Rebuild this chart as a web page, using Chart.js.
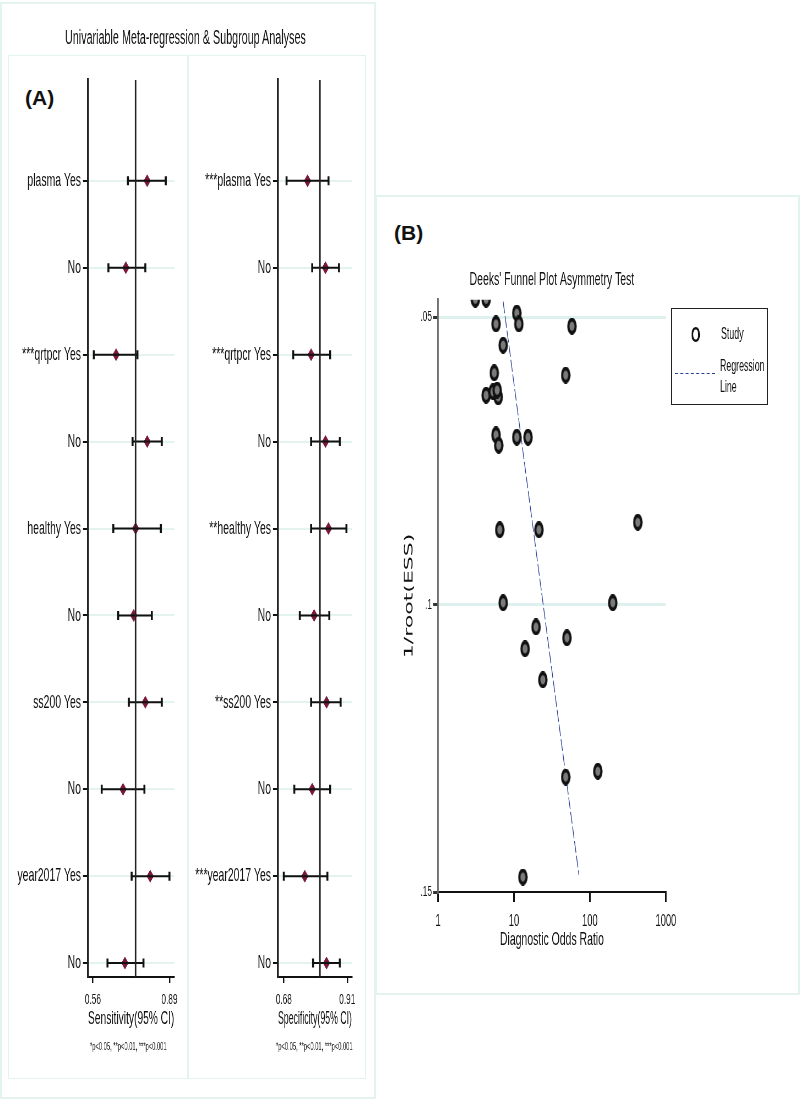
<!DOCTYPE html>
<html lang="en">
<head>
    <meta charset="UTF-8">
    <title>Meta-regression and Deeks' funnel plot</title>
    <script src="https://cdn.jsdelivr.net/npm/chart.js"></script>
    <style>
        body {
            margin: 0;
            width: 800px;
            height: 1100px;
            background: #ffffff;
            font-family: 'Liberation Sans', Arial, sans-serif;
            color: #111;
            position: relative;
            overflow: hidden;
        }
        .frame { position: absolute; border: 2px solid #e2f3f0; box-sizing: border-box; }
        .abs { position: absolute; }
        /* the original figure is a horizontally squeezed Stata graph */
        .sq { position: absolute; white-space: nowrap; transform: scaleX(0.55); transform-origin: 0 0; will-change: transform; }
        canvas { position: absolute; transform: scaleX(0.55); transform-origin: 0 0; }
        .panel-tag { font-weight: bold; font-size: 21px; }
        .foot { font-size: 10.5px; color: #222; }
        #legendBox {
            position: absolute; left: 671px; top: 308px; width: 97px; height: 97px;
            border: 1.5px solid #222; box-sizing: border-box;
        }
    </style>
</head>
<body>
    <!-- panel frames -->
    <div class="frame" style="left:0; top:2px; width:376px; height:1097px;"></div>
    <div class="frame" style="left:8px; top:55px; width:358px; height:1024px; border-width:1.5px;"></div>
    <div class="abs" style="left:187px; top:55px; width:1.5px; height:1024px; background:#e2f3f0;"></div>
    <div class="frame" style="left:375px; top:195px; width:425px; height:800px;"></div>

    <div class="sq" style="left:65px; top:26px; font-size:19.6px;">Univariable Meta-regression &amp; Subgroup Analyses</div>
    <div class="abs panel-tag" style="left:25px; top:86px;">(A)</div>
    <div class="abs panel-tag" style="left:394px; top:221px;">(B)</div>

    <!-- canvas widths are pre-squeeze; shown widths are 172, 170 and 334 px -->
    <canvas id="sensChart" width="313" height="970" style="left:10px; top:60px;"></canvas>
    <canvas id="specChart" width="309" height="970" style="left:190px; top:60px;"></canvas>
    <canvas id="funnelChart" width="607" height="697" style="left:385px; top:255px;"></canvas>

    <div class="sq foot" style="left:90px; top:1040px;">*p&lt;0.05, **p&lt;0.01, ***p&lt;0.001</div>
    <div class="sq foot" style="left:276px; top:1040px;">*p&lt;0.05, **p&lt;0.01, ***p&lt;0.001</div>

    <div id="legendBox">
        <div class="sq" style="left:19px; top:13px; font-size:22px; font-weight:bold;">O</div>
        <div class="sq" style="left:49px; top:16px; font-size:16px;">Study</div>
        <div class="abs" style="left:3px; top:64px; width:40px; border-top:1.5px dashed #2a3f9a;"></div>
        <div class="sq" style="left:48px; top:46px; font-size:16px; line-height:21px;">Regression<br>Line</div>
    </div>

    <script>
        // ---- (A) forest plots ----
        const sensLabels = ['plasma Yes', 'No', '***qrtpcr Yes', 'No', 'healthy Yes', 'No', 'ss200 Yes', 'No', 'year2017 Yes', 'No'];
        const sensEst  = [0.794, 0.702, 0.660, 0.794, 0.744, 0.736, 0.786, 0.690, 0.807, 0.698];
        const sensLow  = [0.711, 0.627, 0.564, 0.731, 0.648, 0.669, 0.715, 0.598, 0.727, 0.623];
        const sensHigh = [0.874, 0.786, 0.752, 0.857, 0.853, 0.814, 0.857, 0.782, 0.890, 0.778];
        const sensPooled = 0.744;
        const sensTicks = [0.56, 0.89];

        const specLabels = ['***plasma Yes', 'No', '***qrtpcr Yes', 'No', '**healthy Yes', 'No', '**ss200 Yes', 'No', '***year2017 Yes', 'No'];
        const specEst  = [0.766, 0.831, 0.779, 0.831, 0.842, 0.790, 0.835, 0.783, 0.756, 0.835];
        const specLow  = [0.690, 0.783, 0.714, 0.779, 0.779, 0.738, 0.779, 0.718, 0.680, 0.786];
        const specHigh = [0.842, 0.880, 0.848, 0.883, 0.907, 0.845, 0.886, 0.848, 0.838, 0.883];
        const specPooled = 0.811;
        const specTicks = [0.68, 0.91];

        // ---- (B) Deeks' funnel plot ----
        const studyDOR = [3.1, 4.3, 10.9, 11.6, 5.8, 58, 7.2, 48, 5.5, 4.3, 5.3, 6.2, 6.0, 5.8, 10.9, 15.3, 6.3,
                          6.5, 21.3, 427, 7.2, 200, 19.5, 49.8, 14, 24, 48, 127, 13.1];
        const studyInvRootESS = [0.0469, 0.0469, 0.0493, 0.0512, 0.0512, 0.0516, 0.0549, 0.0601, 0.0597, 0.0636, 0.0630, 0.0639, 0.0627, 0.0705, 0.0709, 0.0709, 0.0723,
                                 0.0870, 0.0870, 0.0857, 0.0997, 0.0997, 0.1039, 0.1058, 0.1077, 0.1131, 0.1300, 0.1290, 0.1474];
        const regLineDOR = [7.2, 71.6];
        const regLineY = [0.0473, 0.1470];
        const funnelXTicks = [1, 10, 100, 1000];
        const funnelYTicks = [0.05, 0.1, 0.15];

        const squeeze = 0.55;   // must match the CSS scaleX
        const px = v => v / squeeze;

        Chart.defaults.font.family = "'Liberation Sans', Arial, sans-serif";
        Chart.defaults.color = '#111';

        const rowMin = -1.16, rowMax = 9.16;

        function forestChart(id, labels, est, low, high, pooled, ticks, xMin, xMax, axisTitle, yWidth, padRight) {
            const ciData = [];
            const capData = [];
            labels.forEach((_, i) => {
                ciData.push({ x: low[i], y: i }, { x: high[i], y: i }, { x: high[i], y: null });
                capData.push({ x: low[i], y: i }, { x: high[i], y: i });
            });

            return new Chart(document.getElementById(id), {
                type: 'scatter',
                data: {
                    datasets: [
                        {
                            data: [{ x: pooled, y: rowMin }, { x: pooled, y: rowMax }],
                            showLine: true, borderColor: '#222', borderWidth: 2.8, pointRadius: 0
                        },
                        {
                            data: ciData, showLine: true, spanGaps: false,
                            borderColor: '#111', borderWidth: 2, pointRadius: 0
                        },
                        {
                            data: capData, pointStyle: 'line', rotation: 90, pointRadius: 4.5,
                            borderColor: '#111', borderWidth: 3.6
                        },
                        {
                            data: est.map((v, i) => ({ x: v, y: i })),
                            pointStyle: 'rectRot', pointRadius: 6,
                            backgroundColor: '#7a1838', borderColor: '#7a1838'
                        }
                    ]
                },
                options: {
                    responsive: false,
                    animation: false,
                    layout: { padding: { top: 20, right: px(padRight), bottom: 0, left: 0 } },
                    plugins: { legend: { display: false }, tooltip: { enabled: false } },
                    scales: {
                        x: {
                            type: 'linear', min: xMin, max: xMax,
                            afterBuildTicks: s => { s.ticks = ticks.map(v => ({ value: v })); },
                            afterFit: s => { s.height = 53; },
                            ticks: { callback: v => v.toFixed(2), font: { size: 15 }, maxRotation: 0, autoSkip: false, padding: 8 },
                            grid: { drawOnChartArea: false, tickLength: 6, tickColor: '#111', lineWidth: 2.5 },
                            border: { color: '#111', width: 2 },
                            title: { display: true, text: axisTitle, font: { size: 19 }, padding: { top: 0, bottom: 0 } }
                        },
                        y: {
                            type: 'linear', reverse: true, min: rowMin, max: rowMax,
                            afterBuildTicks: s => { s.ticks = labels.map((_, i) => ({ value: i })); },
                            afterFit: s => { s.width = px(yWidth); },
                            ticks: { callback: v => labels[v], font: { size: 19 }, padding: px(2), autoSkip: false },
                            grid: { color: '#e2f3f0', lineWidth: 2, tickLength: px(5), tickColor: '#111' },
                            border: { color: '#222', width: 3.5 }
                        }
                    }
                }
            });
        }

        forestChart('sensChart', sensLabels, sensEst, sensLow, sensHigh, sensPooled, sensTicks, 0.539, 0.911, 'Sensitivity(95% CI)', 78, 5);
        forestChart('specChart', specLabels, specEst, specLow, specHigh, specPooled, specTicks, 0.659, 0.927, 'Specificity(95% CI)', 88, 4);

        // study marker: dark outlined oval (gets squeezed with the canvas)
        const marker = document.createElement('canvas');
        marker.width = 18; marker.height = 17;
        const mctx = marker.getContext('2d');
        mctx.beginPath();
        mctx.ellipse(9, 8.5, 6.6, 6.6, 0, 0, Math.PI * 2);
        mctx.fillStyle = '#7a7a7a';
        mctx.fill();
        mctx.lineWidth = 4;
        mctx.strokeStyle = '#111';
        mctx.stroke();

        new Chart(document.getElementById('funnelChart'), {
            type: 'scatter',
            data: {
                datasets: [
                    {
                        label: 'Study',
                        data: studyDOR.map((v, i) => ({ x: v, y: studyInvRootESS[i] })),
                        pointStyle: marker, pointRadius: 7
                    },
                    {
                        label: 'Regression Line',
                        data: regLineDOR.map((v, i) => ({ x: v, y: regLineY[i] })),
                        showLine: true, borderColor: '#2a3f9a', borderWidth: 1.3,
                        borderDash: [12, 3], pointRadius: 0
                    }
                ]
            },
            options: {
                responsive: false,
                animation: false,
                layout: { padding: 0 },
                plugins: {
                    legend: { display: false },
                    tooltip: { enabled: false },
                    title: {
                        display: true, text: "Deeks' Funnel Plot Asymmetry Test",
                        font: { size: 19, weight: 'normal' }, color: '#111',
                        padding: { top: 13, bottom: 9 }
                    }
                },
                scales: {
                    x: {
                        type: 'logarithmic', min: 1, max: 1000,
                        afterBuildTicks: s => { s.ticks = funnelXTicks.map(v => ({ value: v })); },
                        afterFit: s => { s.height = 60; },
                        ticks: { callback: v => String(v), font: { size: 17 }, maxRotation: 0, autoSkip: false, padding: 9 },
                        grid: { drawOnChartArea: false, tickLength: 10, tickColor: '#111', lineWidth: 3 },
                        border: { color: '#111', width: 2 },
                        title: { display: true, text: 'Diagnostic Odds Ratio', font: { size: 19 }, padding: { top: 0, bottom: 1 } }
                    },
                    y: {
                        type: 'linear', reverse: true, min: 0.047, max: 0.15,
                        afterBuildTicks: s => { s.ticks = funnelYTicks.map(v => ({ value: v })); },
                        afterFit: s => { s.width = px(53); },
                        ticks: { callback: v => String(v).replace(/^0/, ''), font: { size: 15 }, padding: 2, autoSkip: false },
                        grid: {
                            color: c => (c.tick && c.tick.value === 0.15 ? 'rgba(0,0,0,0)' : '#dff1ee'),
                            lineWidth: 3, tickLength: px(5), tickColor: '#333'
                        },
                        border: { color: '#666', width: 2.8 },
                        title: {
                            display: true, text: '1/root(ESS)',
                            font: { family: "'DejaVu Sans', sans-serif", size: 22 },
                            padding: { top: px(17), bottom: 0 }
                        }
                    },
                    // empty right-hand box, same width as the left axis, so the title centres over the plot
                    yRight: {
                        type: 'linear', position: 'right', display: true,
                        afterFit: s => { s.width = px(53); },
                        ticks: { display: false },
                        grid: { display: false },
                        border: { display: false }
                    }
                }
            }
        });
    </script>
</body>
</html>
